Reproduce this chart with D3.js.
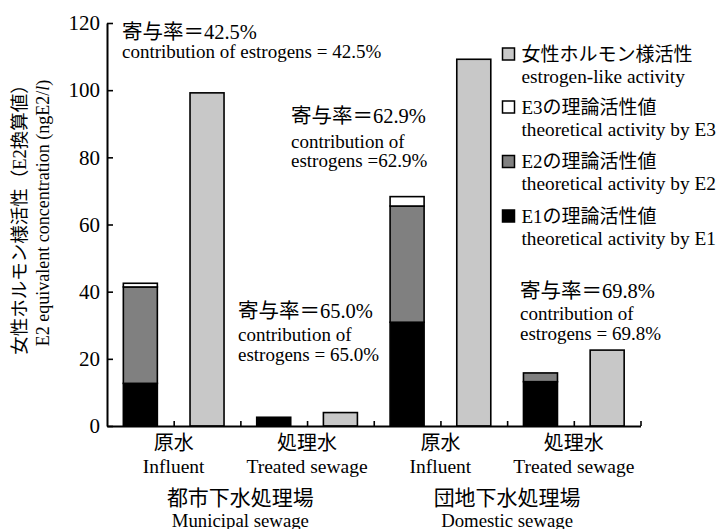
<!DOCTYPE html>
<html>
<head>
<meta charset="utf-8">
<script src="https://cdn.jsdelivr.net/npm/d3@7"></script>
<style>
  html, body { margin: 0; padding: 0; background: #fff; }
  svg { display: block; }
  text { font-family: "Liberation Serif", "Noto Sans CJK JP", serif; fill: #000; }
</style>
</head>
<body>
<svg id="chart" width="723" height="529"></svg>
<script>
// ---------------- data ----------------
const categories   = ["原水", "処理水", "原水", "処理水"];
const categoriesEn = ["Influent", "Treated sewage", "Influent", "Treated sewage"];
const groups       = ["都市下水処理場", "団地下水処理場"];
const groupsEn     = ["Municipal sewage", "Domestic sewage"];
const e1Values       = [12.7, 2.6, 30.9, 13.2];   // E1の理論活性値
const e2Values       = [28.7, 0.0, 34.6, 2.6];    // E2の理論活性値
const e3Values       = [1.1, 0.0, 2.8, 0.0];      // E3の理論活性値
const activityValues = [99.2, 4.0, 109.2, 22.6];  // 女性ホルモン様活性
const contributions  = ["42.5%", "65.0%", "62.9%", "69.8%"];
const yTicks = [0, 20, 40, 60, 80, 100, 120];

const legendJp = ["女性ホルモン様活性", "E3の理論活性値", "E2の理論活性値", "E1の理論活性値"];
const legendEn = ["estrogen-like activity", "theoretical activity by E3", "theoretical activity by E2", "theoretical activity by E1"];
const legendColors = ["#c8c8c8", "#ffffff", "#808080", "#000000"];

// ---------------- layout ----------------
const svg = d3.select("#chart");
const y = d3.scaleLinear().domain([0, 120]).range([426, 23]);
const nBars = categories.length * 2;
const x = d3.scaleBand().domain(d3.range(nBars)).range([107, 640.5])
  .paddingInner(0.49).paddingOuter(0.245);
const xSlots = d3.scaleLinear().domain([0, nBars]).range([107, 640.5]);

const cE1 = "#000000", cE2 = "#808080", cE3 = "#ffffff", cAct = "#c8c8c8";

// stacked theoretical bars
const stackData = categories.map((c, i) => ({ i, e1: e1Values[i], e2: e2Values[i], e3: e3Values[i] }));
const stack = d3.stack().keys(["e1", "e2", "e3"])(stackData);
const stackColors = { e1: cE1, e2: cE2, e3: cE3 };

const barG = svg.append("g");
stack.forEach(layer => {
  barG.selectAll(null).data(layer.filter(d => d[1] - d[0] > 0)).enter().append("rect")
    .attr("x", d => x(d.data.i * 2))
    .attr("width", x.bandwidth())
    .attr("y", d => y(d[1]))
    .attr("height", d => y(d[0]) - y(d[1]))
    .attr("fill", stackColors[layer.key])
    .attr("stroke", "#000").attr("stroke-width", 1.6);
});

// activity bars
barG.selectAll(null).data(activityValues).enter().append("rect")
  .attr("x", (d, i) => x(i * 2 + 1))
  .attr("width", x.bandwidth())
  .attr("y", d => y(d))
  .attr("height", d => y(0) - y(d))
  .attr("fill", cAct)
  .attr("stroke", "#000").attr("stroke-width", 1.6);

// ---------------- axes ----------------
const yAxis = d3.axisLeft(y).tickValues(yTicks).tickSizeInner(-6).tickSizeOuter(0).tickPadding(7);
const gy = svg.append("g").attr("transform", "translate(107,0)").call(yAxis);
gy.select(".domain").attr("stroke", "#000").attr("stroke-width", 2);
gy.selectAll(".tick line").attr("stroke", "#000").attr("stroke-width", 1.6);
gy.selectAll(".tick text").style("font-size", "21px").style("font-family", '"Liberation Serif", serif').attr("fill", "#000");

const xAxis = d3.axisBottom(xSlots).tickValues(d3.range(1, nBars + 1)).tickSizeInner(-5).tickSizeOuter(0).tickFormat("");
const gx = svg.append("g").attr("transform", "translate(0,426)").call(xAxis);
gx.select(".domain").attr("stroke", "#000").attr("stroke-width", 2);
gx.selectAll(".tick line").attr("stroke", "#000").attr("stroke-width", 1.6);

// ---------------- axis titles ----------------
const yt = svg.append("g");
yt.append("text")
  .attr("transform", "translate(20,215) rotate(-90)")
  .attr("text-anchor", "middle").attr("dominant-baseline", "central")
  .style("font-size", "18.5px")
  .text("女性ホルモン様活性（E2換算値）");
const ytEn = yt.append("text")
  .attr("transform", "translate(43,213) rotate(-90)")
  .attr("text-anchor", "middle").attr("dominant-baseline", "central")
  .style("font-size", "18px");
ytEn.append("tspan").text("E2 equivalent concentration (ngE2/");
ytEn.append("tspan").style("font-style", "italic").text("l");
ytEn.append("tspan").text(")");

// ---------------- category labels ----------------
const catG = svg.append("g");
categories.forEach((c, i) => {
  const cx = xSlots(i * 2 + 1);
  catG.append("text").attr("x", cx).attr("y", 443).attr("text-anchor", "middle")
    .attr("dominant-baseline", "central").style("font-size", "20px").text(c);
  catG.append("text").attr("x", cx).attr("y", 466.5).attr("text-anchor", "middle")
    .attr("dominant-baseline", "central").style("font-size", "19.5px").text(categoriesEn[i]);
});
groups.forEach((g, i) => {
  const cx = xSlots(i * 4 + 2);
  catG.append("text").attr("x", cx).attr("y", 498).attr("text-anchor", "middle")
    .attr("dominant-baseline", "central").style("font-size", "21px").text(g);
  catG.append("text").attr("x", cx).attr("y", 520).attr("text-anchor", "middle")
    .attr("dominant-baseline", "central").style("font-size", "18.8px").text(groupsEn[i]);
});

// ---------------- contribution annotations ----------------
const ann = svg.append("g");
function note(x0, ys, lines) {
  lines.forEach((t, k) => {
    ann.append("text").attr("x", x0).attr("y", ys[k])
      .attr("dominant-baseline", "central")
      .style("font-size", k === 0 ? "20.5px" : "19px")
      .text(t);
  });
}
note(122, [31.5, 51.5], ["寄与率＝" + contributions[0], "contribution of estrogens = " + contributions[0]]);
note(291, [116, 141, 160.5], ["寄与率＝" + contributions[2], "contribution of", "estrogens =" + contributions[2]]);
note(238, [311, 334, 354], ["寄与率＝" + contributions[1], "contribution of", "estrogens = " + contributions[1]]);
note(520, [291, 313, 333], ["寄与率＝" + contributions[3], "contribution of", "estrogens = " + contributions[3]]);

// ---------------- legend ----------------
const legJpY = [54, 107, 161.5, 216];
const leg = svg.append("g");
legendJp.forEach((t, i) => {
  leg.append("rect").attr("x", 502.5).attr("y", legJpY[i] - 6).attr("width", 12).attr("height", 12)
    .attr("fill", legendColors[i]).attr("stroke", "#000").attr("stroke-width", 1.5);
  leg.append("text").attr("x", 521.5).attr("y", legJpY[i]).attr("dominant-baseline", "central")
    .style("font-size", "19px").text(t);
  leg.append("text").attr("x", 521.5).attr("y", legJpY[i] + 22).attr("dominant-baseline", "central")
    .style("font-size", "19.3px").text(legendEn[i]);
});
</script>
</body>
</html>
